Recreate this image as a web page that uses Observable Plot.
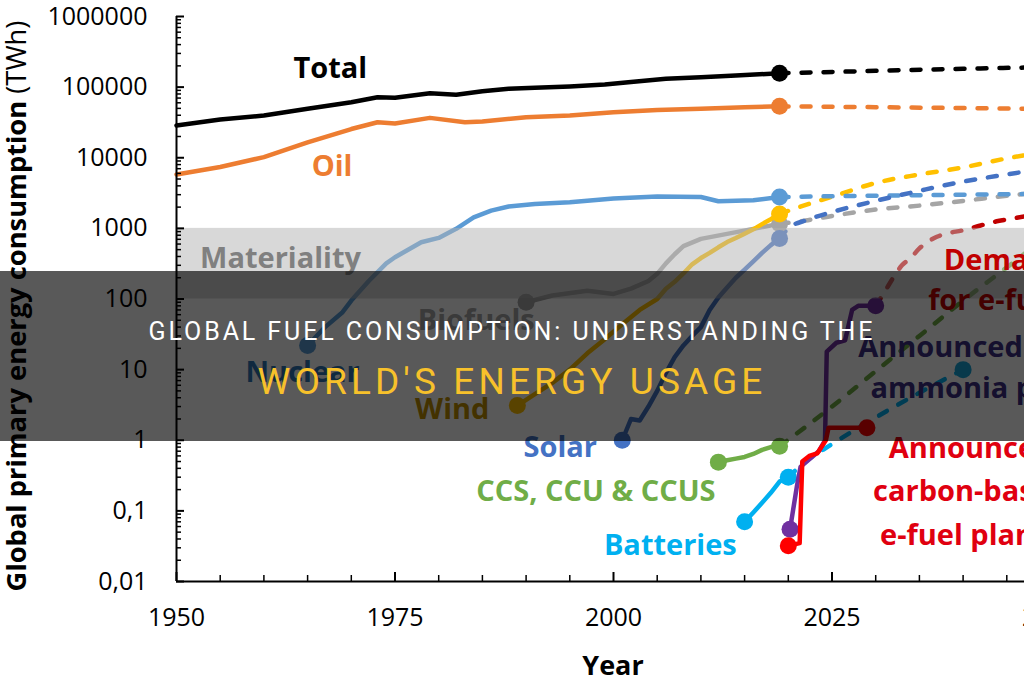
<!DOCTYPE html>
<html><head><meta charset="utf-8">
<script src="https://cdn.jsdelivr.net/npm/d3@7"></script>
<script src="https://cdn.jsdelivr.net/npm/@observablehq/plot@0.6"></script>
<style>
html,body{margin:0;padding:0;background:#fff;}
#wrap{position:relative;width:1024px;height:680px;overflow:hidden;background:#fff;}
#chart{width:1090px;}
#chart svg{max-width:none !important;width:1090px !important;height:680px !important;}
#banner{position:absolute;left:0;top:271px;width:1024px;height:170px;background:rgba(0,0,0,0.65);font-family:Roboto,"Liberation Sans",sans-serif;text-align:center;}
#banner .l1{position:absolute;left:0;width:1024px;top:46px;font-size:25px;line-height:30px;color:#ffffff;letter-spacing:2.9px;}
#banner .l2{position:absolute;left:0;width:1024px;top:90px;font-size:37px;line-height:42px;color:#f7c12b;letter-spacing:4.1px;}
</style></head>
<body>
<div id="wrap"><div id="chart"></div>
<div id="banner"><div class="l1">GLOBAL FUEL CONSUMPTION: UNDERSTANDING THE</div><div class="l2">WORLD'S ENERGY USAGE</div></div>
</div>
<script>
// ---- axis ticks ----
const xTicks = [1950, 1975, 2000, 2025, 2050];
const xTickLabels = ["1950", "1975", "2000", "2025", "2050"];
const yTicks = [0.01, 0.1, 1, 10, 100, 1000, 10000, 100000, 1000000];
const yTickLabels = ["0,01", "0,1", "1", "10", "100", "1000", "10000", "100000", "1000000"];

// ---- series (TWh) ----
const totalYears = [1950,1955,1960,1965,1970,1973,1975,1979,1982,1985,1988,1991,1995,1999,2002,2006,2010,2014,2019];
const totalValues = [28600,34700,39600,49300,61100,72000,70600,82100,77800,87500,94600,97700,102000,109000,118000,131000,138000,146000,157000];
const totalProjYears = [2019,2030,2040,2050];
const totalProjValues = [157000,170000,182000,192000];

const oilYears = [1950,1955,1960,1965,1970,1973,1975,1979,1983,1985,1990,1995,2000,2005,2010,2015,2019];
const oilValues = [5800,7400,10200,16500,25500,31800,30500,36700,31800,32500,37500,39500,44000,47500,49500,52000,53500];
const oilProjYears = [2019,2030,2040,2050];
const oilProjValues = [53500,52000,50500,49000];

const nuclearYears = [1965,1967,1969,1970,1972,1974,1975,1977,1978,1980,1982,1984,1986,1988,1991,1995,2000,2005,2010,2012,2016,2019];
const nuclearValues = [22,40,65,95,180,320,390,540,635,733,985,1435,1785,2040,2220,2340,2650,2820,2780,2420,2500,2780];
const nuclearProjYears = [2019,2025,2030,2035,2040,2045,2050];
const nuclearProjValues = [2780,2850,2900,2950,3000,3050,3100];

const biofuelYears = [1990,1993,1997,2000,2002,2004,2005,2006,2007,2008,2010,2013,2016,2019];
const biofuelValues = [90,112,131,118,140,180,227,320,430,560,710,835,985,1160];
const biofuelProjYears = [2019,2022,2025,2030,2035,2040,2045,2050];
const biofuelProjValues = [1160,1290,1500,1850,2100,2450,2900,3300];

const windYears = [1989,1991,1993,1995,1997,1999,2001,2003,2005,2006,2007,2008,2009,2010,2011,2012,2013,2014,2015,2016,2017,2018,2019];
const windValues = [3.1,4.5,6.5,10,17,27,44,70,100,140,175,230,310,380,450,540,640,730,840,970,1150,1350,1600];
const windProjYears = [2019,2022,2025,2030,2035,2040,2045,2050];
const windProjValues = [1600,2150,2800,4400,5800,7300,9800,12500];

const solarYears = [2001,2002,2003,2004,2005,2006,2007,2008,2009,2010,2011,2012,2013,2014,2015,2016,2017,2018,2019];
const solarValues = [1,2,1.9,3,5,9,15,22,30,40,70,105,145,200,260,340,450,580,720];
const solarProjYears = [2019,2020,2022,2025,2030,2035,2040,2045,2050];
const solarProjValues = [720,1000,1300,1700,2450,3400,4600,5800,7200];

const ccsYears = [2012,2013,2014,2015,2016,2017,2018,2019];
const ccsValues = [0.49,0.52,0.55,0.58,0.64,0.73,0.8,0.82];
const ccsProjYears = [2019,2025,2030,2035,2040,2045,2050];
const ccsProjValues = [0.82,3,9.5,30,95,280,850];

const batteryYears = [2015,2016,2017,2018,2019,2020];
const batteryValues = [0.07,0.095,0.13,0.18,0.26,0.3];
const batteryProjYears = [2020,2022,2025,2030,2035,2040];
const batteryProjValues = [0.3,0.5,0.88,2.1,4.7,10];

const ammoniaYears = [2020.2,2021,2021.4,2022.5,2023.5,2024.2,2024.4,2025.5,2026.5,2027.3,2028,2030];
const ammoniaValues = [0.055,0.23,0.42,0.55,0.7,1.0,18,24,26,70,80,80];

const efuelYears = [2020,2021.3,2021.6,2022.4,2023.3,2024.3,2024.6,2029];
const efuelValues = [0.032,0.035,0.5,0.6,0.65,1.0,1.5,1.5];

const demandYears = [2030,2031,2032,2033,2034,2035,2036,2037,2038,2040,2042,2044,2046,2048,2050];
const demandValues = [80,125,200,300,380,520,650,760,840,940,1100,1270,1400,1560,1720];

// ---- materiality band (TWh) ----
const materialityRange = [100, 1000];

// ---- annotations ----
const labelTexts  = ["Total","Oil","Materiality","Nuclear","Biofuels","Wind","Solar","CCS, CCU & CCUS","Batteries","Announced","carbon-based","e-fuel plants","Demand","for e-fuels","Announced","ammonia plants"];
const labelYears  = [1967.6,1967.8,1952.7,1957.9,1977.6,1977.3,1989.7,1984.3,1998.9,2031.5,2029.7,2030.5,2037.8,2036.0,2028.0,2029.4];
const labelValues = [183000,7500,373,9.1,49,2.7,0.79,0.187,0.032,0.76,0.187,0.0446,350,95,20.5,5.4];
const labelAnchors = ["middle","middle","start","start","start","start","start","start","start","start","start","start","start","start","start","start"];
const labelColors = ["#000000","#ed7d31","#808080","#2e75b6","#a5a5a5","#bf9000","#4472c4","#70ad47","#00b0f0","#e00010","#e00010","#e00010","#c00000","#c00000","#3d2f85","#3d2f85"];

// ---- build ----
const W = 1090, H = 680, ML = 176, MR = 40, MT = 16, MB = 99;
const xDomain = [1950, 2050], yDomain = [0.01, 1e6];
const pxPerYear = (W - ML - MR) / (xDomain[1] - xDomain[0]);
const pxPerDecade = (H - MT - MB) / Math.log10(yDomain[1] / yDomain[0]);
const yLen = px => px / pxPerYear;              // horizontal pixel length in years
const xLen = px => Math.pow(10, px / pxPerDecade); // vertical pixel length as log factor

const zip = (xs, ys) => xs.map((x, i) => ({x, y: ys[i]}));
const series = [
  {s: zip(totalYears,totalValues), p: zip(totalProjYears,totalProjValues), c: "#000000"},
  {s: zip(oilYears,oilValues), p: zip(oilProjYears,oilProjValues), c: "#ed7d31"},
  {s: zip(biofuelYears,biofuelValues), p: zip(biofuelProjYears,biofuelProjValues), c: "#a5a5a5"},
  {s: zip(windYears,windValues), p: zip(windProjYears,windProjValues), c: "#ffc000"},
  {s: zip(nuclearYears,nuclearValues), p: zip(nuclearProjYears,nuclearProjValues), c: "#5b9bd5"},
  {s: zip(solarYears,solarValues), p: zip(solarProjYears,solarProjValues), c: "#4472c4"},
  {s: zip(ccsYears,ccsValues), p: zip(ccsProjYears,ccsProjValues), c: "#70ad47"},
  {s: zip(batteryYears,batteryValues), p: zip(batteryProjYears,batteryProjValues), c: "#00b0f0"},
  {s: zip(ammoniaYears,ammoniaValues), p: zip(demandYears,demandValues), c: "#7030a0", pc: "#c00000"},
  {s: zip(efuelYears,efuelValues), p: [], c: "#ff0000"}
];
const startDotSkip = new Set([0, 1]); // Total & Oil start at the axis without a marker

const marks = [];
series.forEach((d, i) => {
  if (d.p.length) marks.push(Plot.line(d.p, {x: "x", y: "y", stroke: d.pc || d.c, strokeWidth: 4.5, strokeDasharray: "9,13", strokeLinecap: "round", curve: "monotone-x"}));
});
series.forEach((d, i) => {
  marks.push(Plot.line(d.s, {x: "x", y: "y", stroke: d.c, strokeWidth: 4.5, strokeLinejoin: "round", strokeLinecap: "round"}));
  const pts = [d.s[d.s.length - 1]];
  if (!startDotSkip.has(i)) pts.push(d.s[0]);
  marks.push(Plot.dot(pts, {x: "x", y: "y", r: 8.5, fill: d.c}));
});
marks.push(Plot.dot([zip(batteryProjYears,batteryProjValues).at(-1)], {x: "x", y: "y", r: 8.5, fill: "#17a3d6"}));

// materiality band (translucent, above the lines)
marks.push(Plot.rect([materialityRange], {x1: xDomain[0], x2: xDomain[1], y1: d => d[0], y2: d => d[1], fill: "rgb(178,178,178)", fillOpacity: 0.5}));

// axes lines & inward ticks
const yMinor = [];
for (let k = -2; k < 6; k++) for (let m = 2; m <= 9; m++) yMinor.push(m * Math.pow(10, k));
const xMinor = d3.range(xDomain[0], xDomain[1] + 1, 5).filter(v => !xTicks.includes(v));
marks.push(Plot.ruleY(yMinor, {x1: xDomain[0], x2: xDomain[0] + yLen(5), stroke: "#000", strokeWidth: 1.5}));
marks.push(Plot.ruleY(yTicks, {x1: xDomain[0], x2: xDomain[0] + yLen(8), stroke: "#000", strokeWidth: 2}));
marks.push(Plot.ruleX(xMinor, {y1: yDomain[0], y2: yDomain[0] * xLen(6), stroke: "#000", strokeWidth: 1.5}));
marks.push(Plot.ruleX(xTicks, {y1: yDomain[0], y2: yDomain[0] * xLen(9), stroke: "#000", strokeWidth: 2}));
marks.push(Plot.ruleX([xDomain[0]], {y1: yDomain[0], y2: yDomain[1], stroke: "#000", strokeWidth: 2}));
marks.push(Plot.ruleY([yDomain[0]], {x1: xDomain[0], x2: xDomain[1], stroke: "#000", strokeWidth: 2}));

const yLab = new Map(yTicks.map((t, i) => [t, yTickLabels[i]]));
const xLab = new Map(xTicks.map((t, i) => [t, xTickLabels[i]]));
marks.push(Plot.axisY(yTicks, {tickSize: 0, tickPadding: 29, tickFormat: d => yLab.get(d), fontSize: 25, label: null, fill: "#000"}));
marks.push(Plot.axisX(xTicks, {tickSize: 0, tickPadding: 27, tickFormat: d => xLab.get(d), fontSize: 25, label: null, fill: "#000"}));

// labels
const labels = labelTexts.map((t, i) => ({t, x: labelYears[i], y: labelValues[i], a: labelAnchors[i], c: labelColors[i]}));
for (const anchor of ["middle", "start"]) {
  marks.push(Plot.text(labels.filter(d => d.a === anchor), {x: "x", y: "y", text: "t", fill: "c", textAnchor: anchor, fontSize: 29, fontWeight: "bold"}));
}

const chart = Plot.plot({
  width: W, height: H,
  marginLeft: ML, marginRight: MR, marginTop: MT, marginBottom: MB,
  style: {fontFamily: "'Open Sans', sans-serif", background: "transparent", overflow: "visible"},
  x: {domain: xDomain},
  y: {type: "log", domain: yDomain},
  marks
});
document.getElementById("chart").appendChild(chart);

const svg = d3.select(chart);
const yl = svg.append("text")
  .attr("transform", "translate(26,306) rotate(-90)")
  .attr("text-anchor", "middle")
  .style("font-family", "'Open Sans', sans-serif")
  .style("font-size", "27.3px")
  .attr("fill", "#000");
yl.append("tspan").attr("font-weight", "bold").text("Global primary energy consumption");
yl.append("tspan").text(" (TWh)");
svg.append("text")
  .attr("x", ML + (W - ML - MR) / 2).attr("y", 675)
  .attr("text-anchor", "middle")
  .style("font-family", "'Open Sans', sans-serif")
  .style("font-size", "27px").attr("font-weight", "bold")
  .attr("fill", "#000").text("Year");
</script>
</body></html>
